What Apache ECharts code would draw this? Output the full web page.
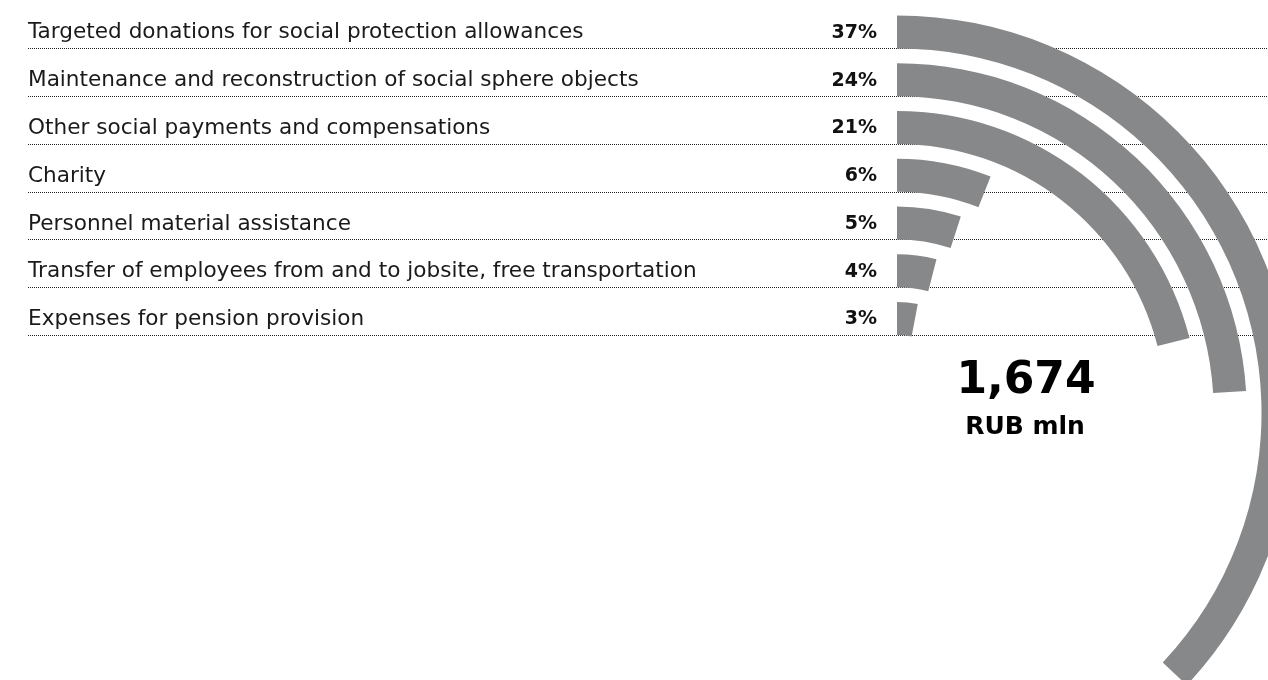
<!DOCTYPE html>
<html>
<head>
<meta charset="utf-8">
<script src="https://cdn.jsdelivr.net/npm/echarts@6/dist/echarts.min.js"></script>
<style>
  html, body { margin: 0; padding: 0; background: #ffffff; }
  #chart { width: 1268px; height: 680px; }
</style>
</head>
<body>
<div id="chart"></div>
<script>
// Social expenditure structure, share of total (%)
const categories = [
  'Targeted donations for social protection allowances',
  'Maintenance and reconstruction of social sphere objects',
  'Other social payments and compensations',
  'Charity',
  'Personnel material assistance',
  'Transfer of employees from and to jobsite, free transportation',
  'Expenses for pension provision'
];
const shares = [37, 24, 21, 6, 5, 4, 3];
const totalValue = '1,674';
const totalUnit = 'RUB mln';

const FONT = '"DejaVu Sans", sans-serif';
const BAR_COLOR = '#87888a';
const BAR_WIDTH = 33;

const chart = echarts.init(document.getElementById('chart'), null, { renderer: 'canvas' });

const rowIdx = categories.map((c, i) => [0, i]);

chart.setOption({
  animation: false,
  backgroundColor: '#ffffff',
  // Row layout for the text column, aligned with the radial bands
  grid: { left: 28, right: 391, top: 9, height: 334.3 },
  xAxis: { type: 'value', min: 0, max: 1, show: false },
  yAxis: [
    {
      type: 'category', data: categories, inverse: true, position: 'left',
      axisLine: { show: false }, axisTick: { show: false }, splitLine: { show: false },
      axisLabel: {
        inside: true, margin: 0, align: 'left', padding: [4, 0, 0, 0],
        fontFamily: FONT, fontSize: 21.6, color: '#1a1a1a'
      }
    },
    {
      type: 'category', data: shares.map(v => v + '%'), inverse: true, position: 'right',
      axisLine: { show: false }, axisTick: { show: false }, splitLine: { show: false },
      axisLabel: {
        inside: true, margin: 0, align: 'right', padding: [2, 0, 0, 0],
        fontFamily: FONT, fontSize: 19, fontWeight: 'bold', color: '#111111'
      }
    }
  ],
  polar: { center: [897, 413], radius: [70.6, 404.9] },
  angleAxis: {
    type: 'value', min: 0, max: 100, startAngle: 90, clockwise: true,
    axisLine: { show: false }, axisTick: { show: false },
    axisLabel: { show: false }, splitLine: { show: false }
  },
  radiusAxis: {
    type: 'category', data: categories, inverse: true,
    axisLine: { show: false }, axisTick: { show: false },
    axisLabel: { show: false }, splitLine: { show: false }
  },
  series: [
    {
      // dotted leader lines under each row
      type: 'custom',
      coordinateSystem: 'cartesian2d',
      xAxisIndex: 0, yAxisIndex: 0,
      clip: false,
      z: 1,
      silent: true,
      data: rowIdx,
      renderItem: function (params, api) {
        const p = api.coord([0, api.value(1)]);
        const y = Math.round(p[1] + BAR_WIDTH / 2 - 1) + 0.5;
        return {
          type: 'line',
          shape: { x1: 28, y1: y, x2: 1268, y2: y },
          style: { stroke: '#222222', lineWidth: 1, lineDash: [1, 1] }
        };
      }
    },
    {
      type: 'bar',
      coordinateSystem: 'polar',
      data: shares,
      barWidth: BAR_WIDTH,
      z: 3,
      itemStyle: { color: BAR_COLOR },
      silent: true
    }
  ],
  graphic: [
    {
      type: 'text', x: 1026, y: 382, z: 10,
      style: {
        text: totalValue, fill: '#000000', font: 'bold 44px ' + FONT,
        textAlign: 'center', textVerticalAlign: 'middle'
      }
    },
    {
      type: 'text', x: 1025, y: 427, z: 10,
      style: {
        text: totalUnit, fill: '#000000', font: 'bold 25px ' + FONT,
        textAlign: 'center', textVerticalAlign: 'middle'
      }
    }
  ]
});
</script>
</body>
</html>
